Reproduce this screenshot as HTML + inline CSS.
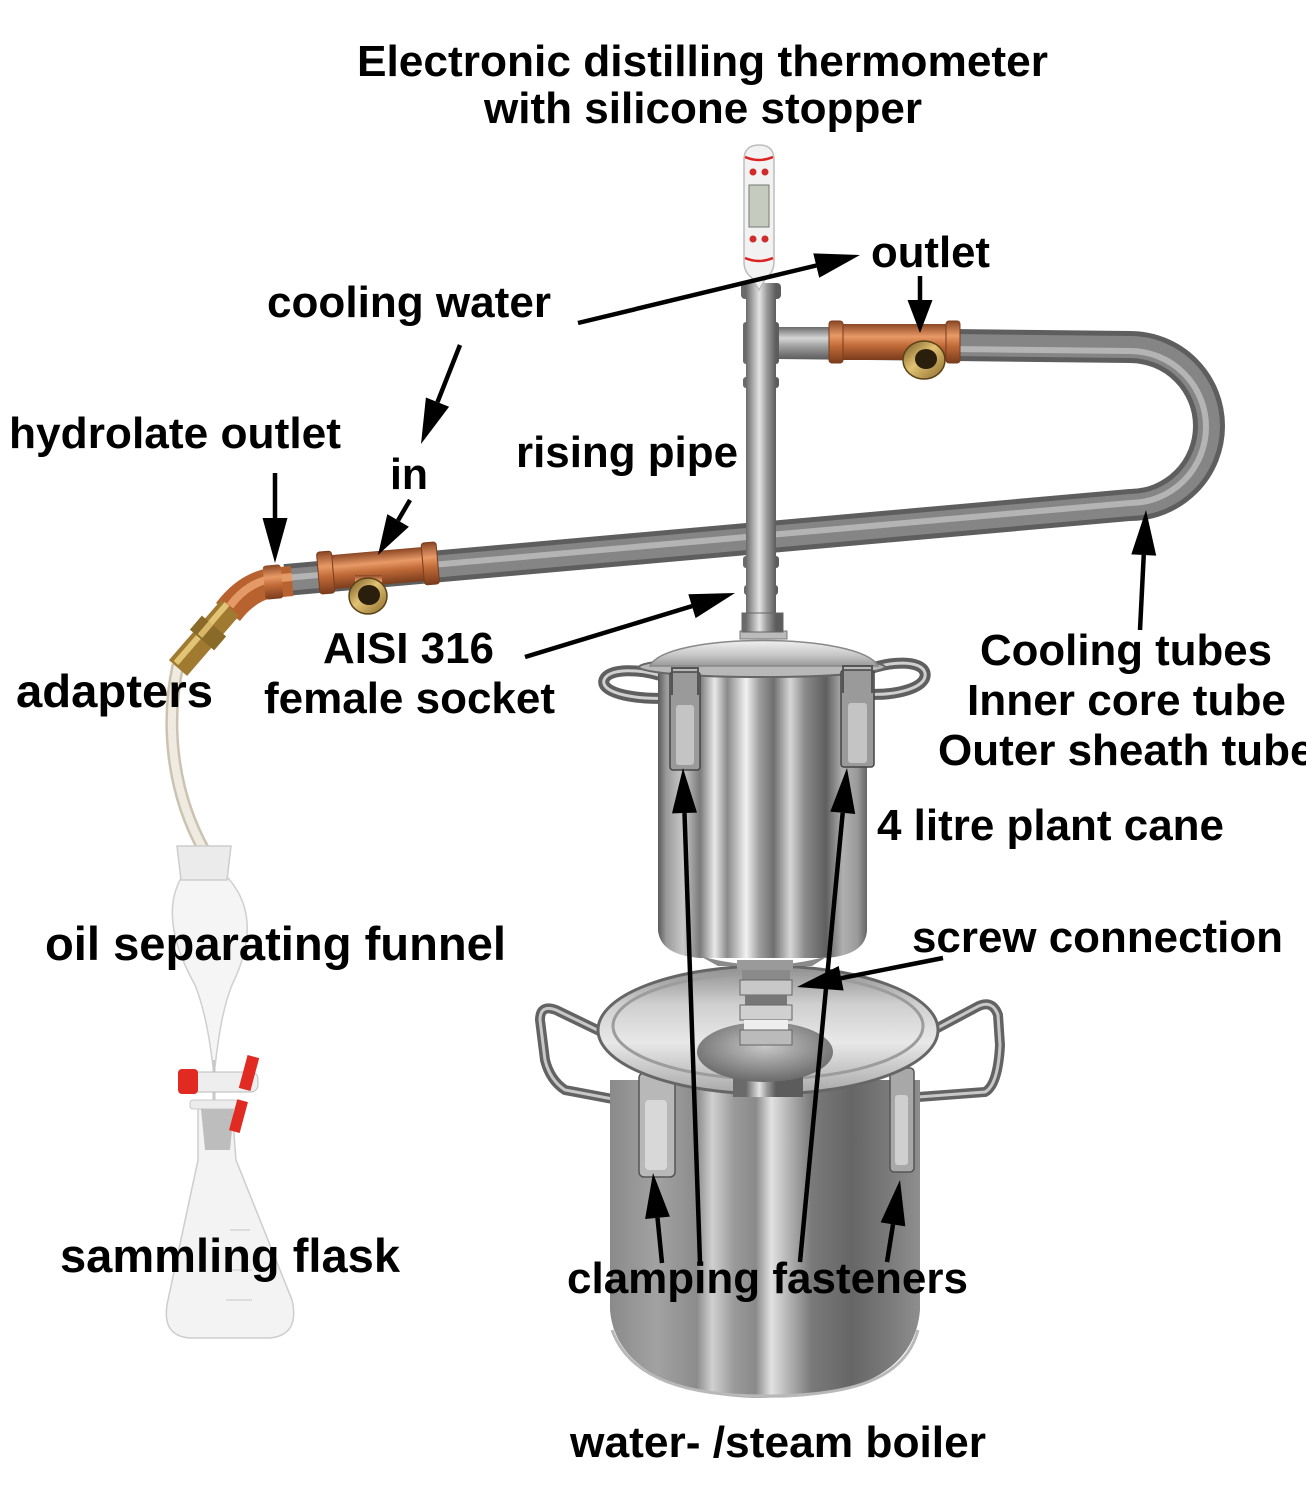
<!DOCTYPE html>
<html><head><meta charset="utf-8">
<style>
html,body{margin:0;padding:0;background:#fff;}
svg{display:block;}
text{font-family:"Liberation Sans",Arial,sans-serif;font-weight:bold;font-size:44px;fill:#000;}
</style></head><body>
<svg width="1306" height="1500" viewBox="0 0 1306 1500" xmlns="http://www.w3.org/2000/svg">
<defs>
 <linearGradient id="gPipe" gradientUnits="userSpaceOnUse" x1="746" y1="0" x2="776" y2="0">
  <stop offset="0" stop-color="#6a6a6a"/><stop offset="0.3" stop-color="#bdbdbd"/><stop offset="0.45" stop-color="#e4e4e4"/><stop offset="0.7" stop-color="#9a9a9a"/><stop offset="1" stop-color="#5c5c5c"/>
 </linearGradient>
 <linearGradient id="gHPipe" x1="0" y1="0" x2="0" y2="1">
  <stop offset="0" stop-color="#6a6a6a"/><stop offset="0.35" stop-color="#d6d6d6"/><stop offset="0.6" stop-color="#a0a0a0"/><stop offset="1" stop-color="#5e5e5e"/>
 </linearGradient>
 <linearGradient id="gCu" x1="0" y1="0" x2="0" y2="1">
  <stop offset="0" stop-color="#8a4624"/><stop offset="0.35" stop-color="#e89a66"/><stop offset="0.6" stop-color="#c06a38"/><stop offset="1" stop-color="#7a3c1c"/>
 </linearGradient>
 <linearGradient id="gBr" x1="0" y1="0" x2="1" y2="1">
  <stop offset="0" stop-color="#6d5220"/><stop offset="0.45" stop-color="#e2c272"/><stop offset="1" stop-color="#8a6a2a"/>
 </linearGradient>
 <linearGradient id="gPot" gradientUnits="userSpaceOnUse" x1="658" y1="0" x2="868" y2="0">
  <stop offset="0" stop-color="#5a5a5a"/><stop offset="0.04" stop-color="#9a9a9a"/><stop offset="0.12" stop-color="#c8c8c8"/><stop offset="0.2" stop-color="#7a7a7a"/><stop offset="0.27" stop-color="#e8e8e8"/><stop offset="0.33" stop-color="#8a8a8a"/><stop offset="0.42" stop-color="#f2f2f2"/><stop offset="0.48" stop-color="#a0a0a0"/><stop offset="0.55" stop-color="#6f6f6f"/><stop offset="0.63" stop-color="#d6d6d6"/><stop offset="0.7" stop-color="#8a8a8a"/><stop offset="0.8" stop-color="#5f5f5f"/><stop offset="0.88" stop-color="#b0b0b0"/><stop offset="0.95" stop-color="#9a9a9a"/><stop offset="1" stop-color="#606060"/>
 </linearGradient>
 <linearGradient id="gBoil" gradientUnits="userSpaceOnUse" x1="610" y1="0" x2="920" y2="0">
  <stop offset="0" stop-color="#8a8a8a"/><stop offset="0.15" stop-color="#a2a2a2"/><stop offset="0.28" stop-color="#8c8c8c"/><stop offset="0.33" stop-color="#d0d0d0"/><stop offset="0.4" stop-color="#9a9a9a"/><stop offset="0.47" stop-color="#8a8a8a"/><stop offset="0.52" stop-color="#e2e2e2"/><stop offset="0.57" stop-color="#b8b8b8"/><stop offset="0.65" stop-color="#7a7a7a"/><stop offset="0.78" stop-color="#666"/><stop offset="0.88" stop-color="#777"/><stop offset="1" stop-color="#8e8e8e"/>
 </linearGradient>
 <linearGradient id="gLid" x1="0" y1="0" x2="0" y2="1">
  <stop offset="0" stop-color="#8e8e8e"/><stop offset="0.3" stop-color="#cfcfcf"/><stop offset="0.6" stop-color="#e8e8e8"/><stop offset="1" stop-color="#a8a8a8"/>
 </linearGradient>
 <linearGradient id="gDome" x1="0" y1="0" x2="0" y2="1">
  <stop offset="0" stop-color="#f0f0f0"/><stop offset="0.6" stop-color="#c4c4c4"/><stop offset="1" stop-color="#9a9a9a"/>
 </linearGradient>
 <radialGradient id="gCone" cx="0.5" cy="0.4" r="0.6">
  <stop offset="0" stop-color="#c8c8c8"/><stop offset="1" stop-color="#6a6a6a"/>
 </radialGradient>
</defs>
<rect width="1306" height="1500" fill="#fff"/>

<!-- hose -->
<path d="M178,665 C 166,720 170,790 205,852" stroke="#cbc3b1" stroke-width="13" fill="none"/>
<path d="M178,665 C 166,720 170,790 205,852" stroke="#f0ebe1" stroke-width="8" fill="none"/>

<!-- funnel -->
<path d="M181,878 C 166,905 170,940 195,985 C 205,1010 210,1040 214,1075 C 218,1040 222,1010 232,985 C 254,940 252,905 228,878 Z" fill="#f5f5f5" stroke="#cfcfcf" stroke-width="1.5"/>
<path d="M177,846 L231,846 L227,880 L181,880 Z" fill="#ebebeb" stroke="#cdcdcd" stroke-width="1.5"/>
<line x1="214" y1="1060" x2="214" y2="1100" stroke="#c8c8c8" stroke-width="3"/>

<!-- flask -->
<path d="M198,1108 L232,1108 L236,1160 L292,1300 Q300,1335 270,1338 L190,1338 Q160,1336 168,1300 L198,1160 Z" fill="#f3f3f3" stroke="#cdcdcd" stroke-width="1.5"/>
<rect x="190" y="1100" width="48" height="9" rx="3" fill="#ececec" stroke="#c8c8c8"/>
<path d="M201,1109 L234,1109 L230,1150 L205,1150 Z" fill="#bdbdbd"/>
<g stroke="#d6d6d6" stroke-width="1.5">
 <line x1="230" y1="1230" x2="250" y2="1230"/><line x1="226" y1="1270" x2="252" y2="1270"/><line x1="226" y1="1300" x2="252" y2="1300"/>
</g>

<!-- stopcock -->
<rect x="190" y="1072" width="68" height="20" rx="7" fill="#eeeeee" stroke="#bbb"/>
<rect x="178" y="1069" width="20" height="25" rx="4" fill="#e02a22"/>
<rect x="243" y="1056" width="12" height="34" fill="#e02a22" transform="rotate(15 249 1073)"/>
<rect x="233" y="1100" width="11" height="32" fill="#e02a22" transform="rotate(15 238 1116)"/>

<!-- cooling tube -->
<path d="M285,580 L1130,505 A78,78 0 0 0 1130,347 L778,343" stroke="#5e5e5e" stroke-width="32" fill="none"/>
<path d="M285,580 L1130,505 A78,78 0 0 0 1130,347 L778,343" stroke="#858585" stroke-width="22" fill="none"/>
<path d="M285,578 L1130,503 A76,76 0 0 0 1130,351 L778,347" stroke="#b4b4b4" stroke-width="6" fill="none"/>

<!-- top fittings -->
<rect x="778" y="327" width="52" height="32" fill="url(#gHPipe)"/>
<rect x="829" y="324" width="131" height="36" rx="4" fill="url(#gCu)"/>
<rect x="829" y="321" width="14" height="42" rx="3" fill="url(#gCu)" stroke="#7a3c1c" stroke-width="1"/>
<rect x="946" y="321" width="14" height="42" rx="3" fill="url(#gCu)" stroke="#7a3c1c" stroke-width="1"/>
<ellipse cx="924" cy="360" rx="21" ry="19" fill="url(#gBr)" stroke="#5a4218" stroke-width="1.5"/>
<ellipse cx="926" cy="359" rx="11" ry="10" fill="#2a1e0c"/>

<!-- left fittings -->
<g transform="rotate(-5 378 568)">
 <rect x="318" y="551" width="120" height="34" rx="4" fill="url(#gCu)"/>
 <rect x="318" y="547" width="15" height="42" rx="3" fill="url(#gCu)" stroke="#7a3c1c" stroke-width="1"/>
 <rect x="423" y="547" width="15" height="42" rx="3" fill="url(#gCu)" stroke="#7a3c1c" stroke-width="1"/>
</g>
<rect x="355" y="575" width="27" height="16" fill="url(#gCu)"/>
<ellipse cx="368" cy="596" rx="19" ry="18" fill="url(#gBr)" stroke="#5a4218" stroke-width="1.5"/>
<ellipse cx="369" cy="595" rx="11" ry="10" fill="#2a1e0c"/>
<path d="M292,581 L270,583 Q246,588 228,612" stroke="#b8622f" stroke-width="30" fill="none"/>
<path d="M292,577 L270,579 Q246,584 230,606" stroke="#e49a66" stroke-width="8" fill="none"/>
<rect x="264" y="565" width="18" height="34" rx="3" fill="url(#gCu)" transform="rotate(-5 273 582)"/>
<line x1="230" y1="608" x2="178" y2="668" stroke="#a07a30" stroke-width="24"/>
<line x1="227" y1="604" x2="176" y2="663" stroke="#e2c476" stroke-width="6"/>
<line x1="214" y1="626" x2="202" y2="640" stroke="#8a6a28" stroke-width="32"/>
<line x1="211" y1="623" x2="200" y2="636" stroke="#d8b868" stroke-width="6"/>

<!-- rising pipe -->
<rect x="746" y="290" width="30" height="325" fill="url(#gPipe)"/>
<rect x="741" y="283" width="40" height="16" rx="4" fill="url(#gPipe)"/>
<rect x="743" y="322" width="36" height="42" rx="3" fill="url(#gPipe)"/>
<rect x="743" y="377" width="36" height="11" rx="3" fill="url(#gPipe)"/>
<rect x="743" y="556" width="36" height="12" rx="3" fill="url(#gPipe)"/>
<rect x="744" y="585" width="34" height="10" rx="3" fill="url(#gPipe)"/>

<!-- thermometer -->
<path d="M744,160 Q744,145 759,145 Q774,145 774,160 L774,262 Q774,272 766,278 L759,290 L752,278 Q744,272 744,262 Z" fill="#f2f2f2" stroke="#bdbdbd" stroke-width="1.5"/>
<path d="M745,157 Q759,163 773,157" stroke="#d22" stroke-width="2.5" fill="none"/>
<path d="M745,258 Q759,264 773,258" stroke="#d22" stroke-width="2.5" fill="none"/>
<rect x="749" y="185" width="20" height="42" fill="#c5ccbf" stroke="#777"/>
<circle cx="753" cy="172" r="3.5" fill="#d02a2a"/><circle cx="765" cy="172" r="3.5" fill="#d02a2a"/>
<circle cx="753" cy="239" r="3.5" fill="#d02a2a"/><circle cx="765" cy="239" r="3.5" fill="#d02a2a"/>

<!-- boiler handles -->
<path d="M618,1040 L556,1010 Q540,1004 540,1020 L545,1060 Q550,1080 565,1090 L618,1100" stroke="#636363" stroke-width="10" fill="none"/>
<path d="M618,1040 L556,1010 Q540,1004 540,1020 L545,1060 Q550,1080 565,1090 L618,1100" stroke="#c8c8c8" stroke-width="3" fill="none"/>
<path d="M915,1040 L975,1008 Q992,998 998,1015 L1000,1045 Q998,1085 985,1092 L918,1097" stroke="#636363" stroke-width="10" fill="none"/>
<path d="M915,1040 L975,1008 Q992,998 998,1015 L1000,1045 Q998,1085 985,1092 L918,1097" stroke="#c8c8c8" stroke-width="3" fill="none"/>

<!-- boiler body -->
<path d="M610,1080 L610,1310 C615,1370 680,1398 765,1398 C860,1398 915,1370 920,1310 L920,1080 Z" fill="url(#gBoil)"/>
<path d="M612,1330 C630,1380 690,1396 765,1396 C850,1396 905,1380 918,1330" stroke="#b8b8b8" stroke-width="3" fill="none"/>
<!-- boiler latches -->
<rect x="639" y="1073" width="36" height="104" rx="5" fill="#b8b8b8" stroke="#555" stroke-width="1.5"/>
<rect x="645" y="1100" width="22" height="70" rx="4" fill="#d8d8d8"/>
<rect x="890" y="1068" width="24" height="104" rx="4" fill="#a8a8a8" stroke="#555" stroke-width="1.5"/>
<rect x="895" y="1095" width="13" height="70" rx="3" fill="#cfcfcf"/>

<!-- boiler lid -->
<ellipse cx="768" cy="1030" rx="170" ry="64" fill="url(#gLid)" stroke="#666" stroke-width="3"/>
<ellipse cx="768" cy="1026" rx="155" ry="53" fill="none" stroke="#9c9c9c" stroke-width="3"/>
<rect x="733" y="1055" width="70" height="42" fill="url(#gPipe)" transform="translate(0,0)"/>
<ellipse cx="765" cy="1052" rx="68" ry="30" fill="url(#gCone)"/>
<!-- nuts -->
<rect x="742" y="967" width="48" height="13" fill="#8a8a8a"/>
<rect x="740" y="980" width="52" height="15" fill="#c8c8c8" stroke="#666" stroke-width="1"/>
<rect x="745" y="995" width="42" height="10" fill="#777"/>
<rect x="740" y="1005" width="52" height="15" fill="#d0d0d0" stroke="#666" stroke-width="1"/>
<rect x="744" y="1020" width="44" height="10" fill="#eeeeee"/>
<rect x="740" y="1030" width="52" height="15" fill="#bbbbbb" stroke="#666" stroke-width="1"/>

<!-- upper pot handles -->
<path d="M668,678 C640,668 608,668 604,680 C600,694 640,700 668,698" stroke="#5f5f5f" stroke-width="11" fill="none"/>
<path d="M668,678 C640,668 608,668 604,680 C600,694 640,700 668,698" stroke="#d0d0d0" stroke-width="3" fill="none"/>
<path d="M862,672 C890,660 922,660 925,673 C928,688 895,696 866,694" stroke="#5f5f5f" stroke-width="11" fill="none"/>
<path d="M862,672 C890,660 922,660 925,673 C928,688 895,696 866,694" stroke="#d0d0d0" stroke-width="3" fill="none"/>

<!-- upper pot body -->
<path d="M658,668 L658,930 Q660,955 700,958 L826,958 Q866,955 867,930 L867,668 Z" fill="url(#gPot)"/>
<path d="M700,956 Q765,974 828,956 L812,966 L718,966 Z" fill="#8a8a8a"/>
<rect x="737" y="960" width="56" height="10" fill="#9a9a9a"/>
<ellipse cx="762" cy="667" rx="123" ry="10" fill="#b8b8b8" stroke="#666" stroke-width="2"/>
<path d="M650,666 C665,632 860,632 878,666 Z" fill="url(#gDome)" stroke="#888" stroke-width="1.5"/>
<rect x="740" y="631" width="47" height="8" fill="#bbbbbb" stroke="#777" stroke-width="1"/>
<rect x="742" y="613" width="41" height="19" fill="url(#gPipe)" stroke="#666" stroke-width="1"/>

<!-- upper latches -->
<rect x="670" y="672" width="30" height="98" rx="3" fill="#9a9a9a" stroke="#444" stroke-width="1.5"/>
<rect x="676" y="705" width="18" height="60" rx="3" fill="#c4c4c4"/>
<path d="M672,695 L672,668 L698,668 L698,695" stroke="#555" stroke-width="2" fill="none"/>
<rect x="841" y="670" width="33" height="97" rx="3" fill="#9a9a9a" stroke="#444" stroke-width="1.5"/>
<rect x="848" y="703" width="19" height="60" rx="3" fill="#c4c4c4"/>
<path d="M843,693 L843,666 L872,666 L872,693" stroke="#555" stroke-width="2" fill="none"/>

<!-- arrows -->
<g stroke="#000" stroke-width="4.5" fill="none">
 <line x1="578" y1="323" x2="816.3" y2="265.5"/>
 <line x1="920" y1="276" x2="920" y2="301"/>
 <line x1="460" y1="345" x2="437.5" y2="402.1"/>
 <line x1="275" y1="473" x2="275" y2="519"/>
 <line x1="410" y1="500" x2="398.1" y2="520.4"/>
 <line x1="525" y1="657" x2="692" y2="606.1"/>
 <line x1="1140" y1="630" x2="1143.75" y2="555"/>
 <line x1="700" y1="1262" x2="684.5" y2="813"/>
 <line x1="800" y1="1262" x2="842.7" y2="812.8"/>
 <line x1="662" y1="1263" x2="657.5" y2="1217.8"/>
 <line x1="887" y1="1262" x2="893" y2="1224.4"/>
 <line x1="943" y1="958" x2="841.1" y2="978.2"/>
</g>
<g fill="#000">
 <polygon points="860,255 819.2,277.7 813.3,253.4"/>
 <polygon points="920,333 907.5,300 932.5,300"/>
 <polygon points="421,444 425.9,397.5 449.1,406.7"/>
 <polygon points="275,563 262.5,518 287.5,518"/>
 <polygon points="378,555 387.3,514.1 408.9,526.7"/>
 <polygon points="735,593 695.6,618.1 688.3,594.2"/>
 <polygon points="1146,510 1156.2,555.6 1131.3,554.4"/>
 <polygon points="683,768 697,812.6 672,813.4"/>
 <polygon points="847,768 855.2,814 830.3,811.6"/>
 <polygon points="653,1173 669.9,1216.6 645.1,1219"/>
 <polygon points="900,1180 905.3,1226.4 880.6,1222.4"/>
 <polygon points="797,987 838.7,966 843.6,990.5"/>
</g>

<!-- labels -->
<text x="357" y="76" textLength="691" lengthAdjust="spacingAndGlyphs">Electronic distilling thermometer</text>
<text x="484" y="123" textLength="438" lengthAdjust="spacingAndGlyphs">with silicone stopper</text>
<text x="871" y="267" textLength="119" lengthAdjust="spacingAndGlyphs">outlet</text>
<text x="267" y="317" textLength="284" lengthAdjust="spacingAndGlyphs">cooling water</text>
<text x="9" y="448" textLength="332" lengthAdjust="spacingAndGlyphs">hydrolate outlet</text>
<text x="390" y="489" textLength="38" lengthAdjust="spacingAndGlyphs">in</text>
<text x="516" y="467" textLength="222" lengthAdjust="spacingAndGlyphs">rising pipe</text>
<text x="323" y="663" textLength="171" lengthAdjust="spacingAndGlyphs">AISI 316</text>
<text x="264" y="713" textLength="291" lengthAdjust="spacingAndGlyphs">female socket</text>
<text x="16" y="707" style="font-size:46px" textLength="197" lengthAdjust="spacingAndGlyphs">adapters</text>
<text x="980" y="665" textLength="292" lengthAdjust="spacingAndGlyphs">Cooling tubes</text>
<text x="967" y="715" textLength="319" lengthAdjust="spacingAndGlyphs">Inner core tube</text>
<text x="938" y="765">Outer sheath tube</text>
<text x="877" y="840" textLength="347" lengthAdjust="spacingAndGlyphs">4 litre plant cane</text>
<text x="912" y="952" textLength="371" lengthAdjust="spacingAndGlyphs">screw connection</text>
<text x="45" y="960" style="font-size:47px" textLength="461" lengthAdjust="spacingAndGlyphs">oil separating funnel</text>
<text x="60" y="1272" style="font-size:47px" textLength="340" lengthAdjust="spacingAndGlyphs">sammling flask</text>
<text x="567" y="1293" textLength="401" lengthAdjust="spacingAndGlyphs">clamping fasteners</text>
<text x="570" y="1457" textLength="416" lengthAdjust="spacingAndGlyphs">water- /steam boiler</text>
</svg>
</body></html>
